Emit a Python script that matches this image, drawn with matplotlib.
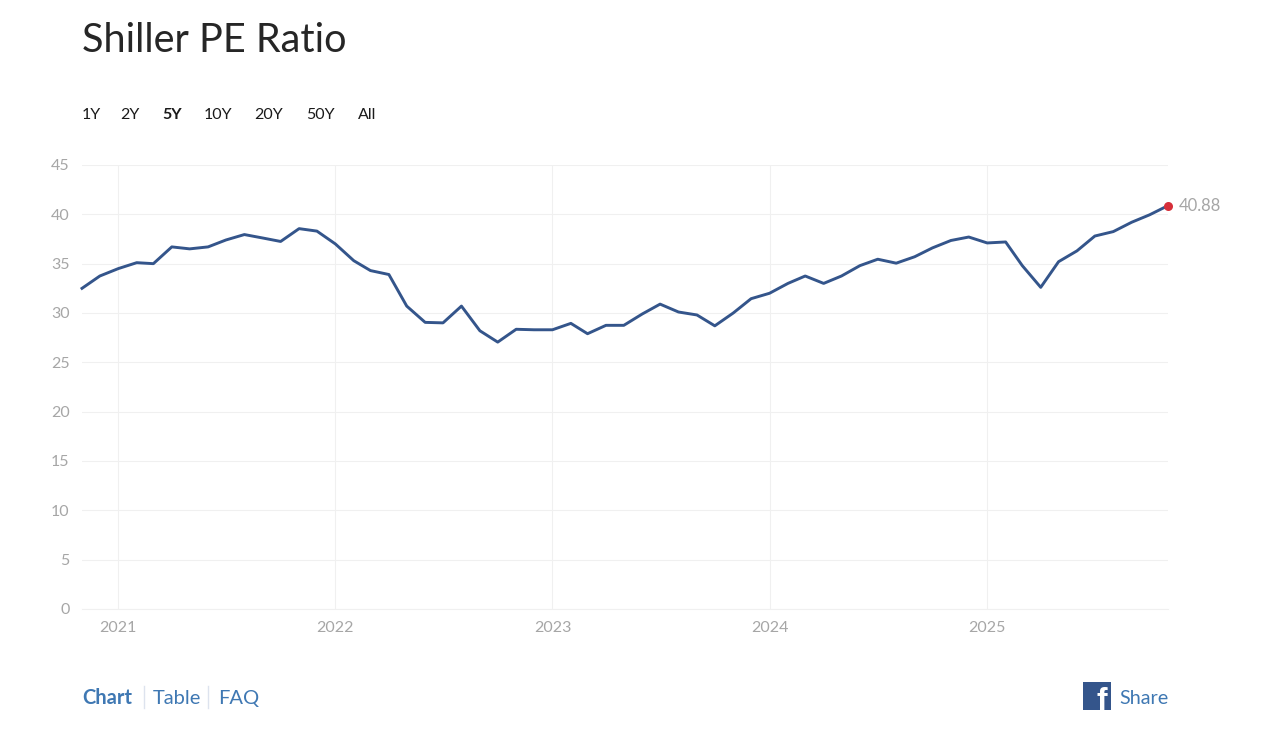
"""
Shiller PE ratio, 5Y view, monthly values read off the reference picture.
"""

import matplotlib
matplotlib.use("Agg")
import matplotlib.dates as mdates
import matplotlib.pyplot as plt
import pandas as pd
from matplotlib.patches import FancyBboxPatch

W, H = 1280, 744

dates = pd.date_range("2020-11-01", "2025-11-01", freq="MS")
pe_values = [
    32.5, 33.75, 34.5, 35.1, 35.0, 36.7, 36.5, 36.7, 37.4, 37.95,
    37.6, 37.25, 38.55, 38.3, 37.0, 35.3, 34.3, 33.9, 30.7, 29.05,
    29.0, 30.7, 28.2, 27.05, 28.35, 28.3, 28.3, 28.95, 27.9, 28.75,
    28.75, 29.9, 30.9, 30.1, 29.8, 28.7, 30.0, 31.45, 32.0, 33.0,
    33.75, 33.0, 33.75, 34.8, 35.45, 35.05, 35.7, 36.6, 37.35, 37.7,
    37.1, 37.2, 34.8, 32.6, 35.2, 36.3, 37.8, 38.25, 39.2, 39.95,
    40.88,
]
y_ticks = [0, 5, 10, 15, 20, 25, 30, 35, 40, 45]
x_years = [2021, 2022, 2023, 2024, 2025]
range_labels = ["1Y", "2Y", "5Y", "10Y", "20Y", "50Y", "All"]
range_x = [82, 120, 162, 204, 254, 306, 358]

NAVY = "#34558b"
LINK = "#3f78b3"
GREY = "#a6a6a6"
GRID = "#f0f0f0"

plt.rcParams["font.family"] = ["Lato", "DejaVu Sans"]

fig = plt.figure(figsize=(W / 100, H / 100), dpi=100, facecolor="white")


def put_text(x, y, s, **kw):
    # x, y in reference pixels, y counted from the top, y is the text baseline
    return fig.text(x / W, 1 - y / H, s, va="baseline", **kw)


ax = fig.add_axes([82 / W, 1 - 609 / H, (1168 - 82) / W, (609 - 165) / H])
ax.plot(dates, pe_values, color=NAVY, lw=2.1, solid_joinstyle="round", clip_on=False, zorder=3)
ax.plot(dates[-1], pe_values[-1], "o", color="#d62f3a", ms=6.5, mew=0, clip_on=False, zorder=4)
ax.annotate(f"{pe_values[-1]:.2f}", (dates[-1], pe_values[-1]), xytext=(8, 0),
            textcoords="offset points", color=GREY, fontsize=12, va="center",
            annotation_clip=False)

ax.set_xlim(dates[0], dates[-1])
ax.set_ylim(0, 45)
ax.set_yticks(y_ticks)
ax.set_xticks([mdates.date2num(pd.Timestamp(year=y, month=1, day=1)) for y in x_years])
ax.set_xticklabels([str(y) for y in x_years])
ax.grid(True, color=GRID, lw=0.8)
ax.set_axisbelow(True)
ax.tick_params(length=0, labelsize=11.5, labelcolor=GREY)
ax.tick_params(axis="y", pad=9)
ax.tick_params(axis="x", pad=9)
for side in ["top", "right", "left"]:
    ax.spines[side].set_visible(False)
ax.spines["bottom"].set_color(GRID)

# header
put_text(82, 52, "Shiller PE Ratio", fontsize=28.5, color="#262626")
for x, label in zip(range_x, range_labels):
    bold = label == "5Y"
    put_text(x, 119, label, fontsize=11.5, color="#1a1a1a",
             fontweight="bold" if bold else "normal")

# footer links
put_text(82, 704, "Chart", fontsize=14.5, color=LINK, fontweight="bold")
put_text(153, 704, "Table", fontsize=14.5, color=LINK)
put_text(218, 704, "FAQ", fontsize=14.5, color=LINK)
for x in [144, 208]:
    fig.add_artist(plt.Line2D([x / W, x / W], [1 - 708 / H, 1 - 686 / H], color="#dde3ee", lw=1))

# facebook share box
fig.add_artist(FancyBboxPatch((1083 / W, 1 - 710 / H), 28 / W, 28 / H, boxstyle="square,pad=0",
                              transform=fig.transFigure, fc=NAVY, ec="none"))
put_text(1102, 710, "f", fontsize=23, color="white", ha="center",
         fontweight="bold", family=["Liberation Sans"])
put_text(1119, 704, "Share", fontsize=14.2, color=LINK)

fig.savefig("out.png", dpi=100, facecolor="white")
